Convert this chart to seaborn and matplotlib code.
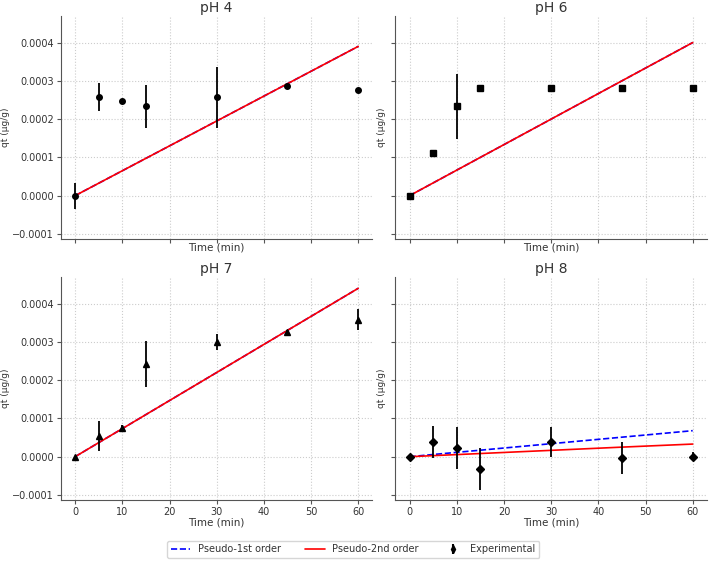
import numpy as np
import pandas as pd
import matplotlib
matplotlib.use("Agg")
import matplotlib.pyplot as plt
import matplotlib.ticker as mticker
import seaborn as sns
from matplotlib.lines import Line2D

# sampling times (min)
time = [0, 5, 10, 15, 30, 45, 60]

# experimental qt (ug/g) and std for each pH
ph4_q = [0.0, 0.000257, 0.000248, 0.000233, 0.000257, 0.000287, 0.000277]
ph4_err = [0.000034, 0.000037, 0.0, 0.000057, 0.00008, 0.0, 0.0]
ph6_q = [0.0, 0.000111, 0.000233, 0.000282, 0.000282, 0.000282, 0.000282]
ph6_err = [0.0, 0.0, 0.000085, 0.0, 0.0, 0.0, 0.0]
ph7_q = [0.0, 0.000054, 0.000074, 0.000243, 0.0003, 0.000325, 0.000358]
ph7_err = [0.0, 0.000038, 0.00001, 0.00006, 0.00002, 0.000005, 0.000028]
ph8_q = [0.0, 0.000038, 0.000022, -0.000032, 0.000038, -0.000003, 0.0]
ph8_err = [0.0, 0.000042, 0.000055, 0.000055, 0.00004, 0.000042, 0.000011]

# model fits at the sampling times
ph4_pfo = [0.0, 0.0000325, 0.000065, 0.0000975, 0.000195, 0.0002925, 0.00039]
ph4_pso = ph4_pfo
ph6_pfo = [0.0, 0.0000333, 0.0000667, 0.0001, 0.0002, 0.0003, 0.0004]
ph6_pso = ph6_pfo
ph7_pfo = [0.0, 0.0000367, 0.0000733, 0.00011, 0.00022, 0.00033, 0.00044]
ph7_pso = ph7_pfo
ph8_pfo = [0.0, 0.0000057, 0.0000114, 0.000017, 0.000034, 0.000051, 0.000068]
ph8_pso = [0.0, 0.0000028, 0.0000055, 0.0000083, 0.0000166, 0.000025, 0.000033]

panels = [
    ("pH 4", ph4_q, ph4_err, ph4_pfo, ph4_pso, "o"),
    ("pH 6", ph6_q, ph6_err, ph6_pfo, ph6_pso, "s"),
    ("pH 7", ph7_q, ph7_err, ph7_pfo, ph7_pso, "^"),
    ("pH 8", ph8_q, ph8_err, ph8_pfo, ph8_pso, "D"),
]

sns.set_style("whitegrid", {"grid.linestyle": ":", "grid.color": "#cccccc",
                            "axes.edgecolor": "#555555"})
plt.rcParams['font.family'] = ['DejaVu Sans']
plt.rcParams['text.color'] = '#333333'
plt.rcParams['axes.labelcolor'] = '#333333'

fig, axes = plt.subplots(2, 2, figsize=(7.09, 5.63), dpi=100, sharex=True, sharey=True)
fig.subplots_adjust(left=0.086, right=0.997, top=0.972, bottom=0.112, wspace=0.074, hspace=0.17)

for ax, (title, q, err, pfo, pso, mk) in zip(axes.flat, panels):
    df = pd.DataFrame({"t": time, "pfo": pfo, "pso": pso})
    sns.lineplot(data=df, x="t", y="pfo", ax=ax, color="blue", linestyle="--", linewidth=1.2)
    sns.lineplot(data=df, x="t", y="pso", ax=ax, color="red", linewidth=1.2)
    ax.errorbar(time, q, yerr=err, fmt=mk, color="black", ms=4, elinewidth=1.3, zorder=3)
    ax.set_title(title, fontsize=10, color="#333333", pad=3)
    ax.set_xlabel("Time (min)", fontsize=7.5)
    ax.set_ylabel("qt (μg/g)", fontsize=6.5)
    ax.xaxis.label.set_visible(True)
    ax.yaxis.label.set_visible(True)
    ax.xaxis.set_label_coords(0.5, -0.018 if ax in axes[0] else -0.078)
    ax.yaxis.set_label_coords(-0.165 if ax in axes[:, 0] else -0.03, 0.5)
    for s in ["top", "right"]:
        ax.spines[s].set_visible(False)
    ax.tick_params(axis="both", labelsize=7, length=3, width=0.8, bottom=True, left=True,
                   color="#555555", labelcolor="#333333", pad=2)
    ax.grid(True, linestyle=":", color="#cccccc", linewidth=0.8)

for ax in axes[0]:
    ax.tick_params(labelbottom=False)
for ax in axes[:, 1]:
    ax.tick_params(labelleft=False)

axes[0, 0].set_ylim(-0.000113, 0.00047)
axes[0, 0].set_yticks([-0.0001, 0.0, 0.0001, 0.0002, 0.0003, 0.0004])
axes[0, 0].yaxis.set_major_formatter(
    mticker.FuncFormatter(lambda v, p: f"{v:.4f}".replace("-", "\u2212")))
axes[0, 0].set_xlim(-3, 63)
axes[0, 0].set_xticks([0, 10, 20, 30, 40, 50, 60])

handles = [
    Line2D([], [], color="blue", linestyle="--", linewidth=1.2),
    Line2D([], [], color="red", linewidth=1.2),
]
eb = axes[1, 1].errorbar([], [], yerr=[], fmt="d", color="black", ms=4)
handles.append(eb)
fig.legend(handles, ["Pseudo-1st order", "Pseudo-2nd order", "Experimental"],
           loc="center", bbox_to_anchor=(0.498, 0.024), ncol=3, fontsize=7,
           frameon=True, edgecolor="#cccccc", columnspacing=2.5)

fig.savefig("out.png", dpi=100)
